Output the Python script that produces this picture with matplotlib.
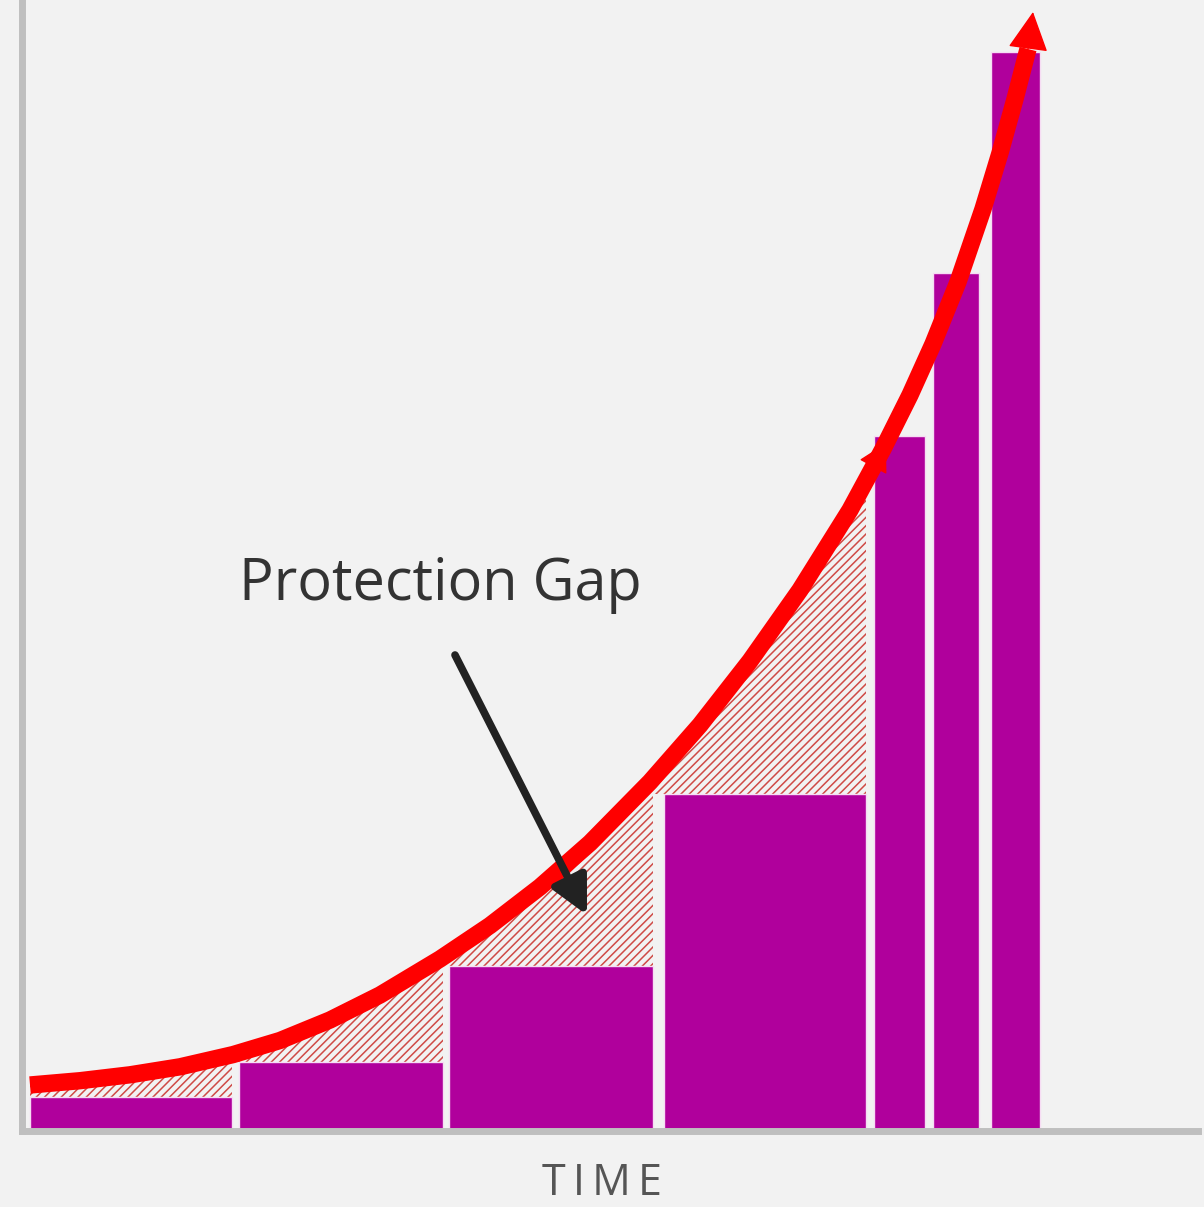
import numpy as np
import matplotlib
matplotlib.use("Agg")
import matplotlib.pyplot as plt
from matplotlib.patches import Polygon

# Cover bars: left edge, width and height of each period
bar_left = [0.8, 21.7, 42.7, 64.2, 85.2, 91.1, 96.9]
bar_width = [20.2, 20.4, 20.4, 20.2, 5.1, 4.6, 4.9]
bar_height = [3.4, 6.9, 16.5, 33.7, 69.5, 85.8, 107.9]

# Growing need curve
curve_x = [0.8, 5.8, 10.8, 15.8, 21.1, 25.8, 30.8, 35.8, 41.8, 46.8, 51.8, 56.8,
           62.8, 67.8, 72.8, 77.8, 82.8, 86.1, 88.8, 91.1, 93.6, 96.1, 97.8,
           99.3, 100.6]
curve_y = [4.6, 5.03, 5.62, 6.42, 7.64, 9.05, 11.1, 13.6, 17.2, 20.55, 24.4, 28.8,
           34.9, 40.6, 47.0, 54.1, 62.1, 68.2, 73.6, 78.7, 84.9, 92.2, 97.8,
           103.2, 108.2]
curve_tip = (101.1, 111.9)

gap_label = "Protection Gap"
axis_label = "T\u2009I\u2009M\u2009E"

BG = "#f2f2f2"
BAR = "#b0009c"
RED = "#ff0000"
SPINE = "#bfbfbf"
HATCH = "#cf4a46"

plt.rcParams["hatch.linewidth"] = 1.1
fig = plt.figure(figsize=(12.04, 12.07), dpi=100, facecolor=BG)
ax = fig.add_axes([22 / 1204, 76 / 1207, 1176 / 1204, 1131 / 1207])
ax.set_facecolor(BG)
ax.set_xlim(0, 117.6)
ax.set_ylim(0, 113.1)
ax.set_xticks([])
ax.set_yticks([])
for side in ("top", "right"):
    ax.spines[side].set_visible(False)
for side in ("left", "bottom"):
    ax.spines[side].set_color(SPINE)
    ax.spines[side].set_linewidth(5)
    ax.spines[side].set_zorder(2.6)

# Bars
ax.bar(bar_left, bar_height, width=bar_width, align="edge", color=BAR,
       edgecolor="#f6dcf3", linewidth=1.0, zorder=2)

# Hatched gap between the curve and the first four bars
n_gap = 4
rights = [bar_left[i] + bar_width[i] for i in range(n_gap)]
x_lo, x_hi = bar_left[0], rights[-1]
upper = [(x, y) for x, y in zip(curve_x, curve_y) if x_lo <= x <= x_hi]
upper.append((x_hi, float(np.interp(x_hi, curve_x, curve_y))))
lower = [(rights[-1], bar_height[n_gap - 1])]
for i in range(n_gap - 2, -1, -1):
    lower.append((rights[i], bar_height[i + 1]))
    lower.append((rights[i], bar_height[i]))
lower.append((bar_left[0], bar_height[0]))
ax.add_patch(Polygon(upper + lower, closed=True, facecolor="none",
                     edgecolor=HATCH, hatch="////", linewidth=0, zorder=1))

# Curve with arrowheads
ax.plot(curve_x, curve_y, color=RED, linewidth=12.5, solid_capstyle="butt",
        solid_joinstyle="round", zorder=3)
ax.annotate("", xy=curve_tip, xytext=(curve_x[-1], curve_y[-1]),
            arrowprops=dict(arrowstyle="-|>,head_length=0.5,head_width=0.26",
                            mutation_scale=50, color=RED, lw=1,
                            shrinkA=0, shrinkB=0), zorder=3)
ax.annotate("", xy=(curve_x[17] + 0.3, curve_y[17] + 0.6),
            xytext=(curve_x[16], curve_y[16]),
            arrowprops=dict(arrowstyle="-|>,head_length=0.45,head_width=0.25",
                            mutation_scale=40, color=RED, lw=1,
                            shrinkA=0, shrinkB=0), zorder=3)

# Label and pointer
ax.text(41.8, 53.1, gap_label, ha="center", va="baseline", fontsize=41.5,
        family=["Open Sans", "DejaVu Sans"], color="#333333", zorder=4)
ax.annotate("", xy=(56.5, 21.6), xytext=(43.3, 47.6),
            arrowprops=dict(arrowstyle="-|>,head_length=0.75,head_width=0.38",
                            mutation_scale=30, color="#222222", lw=5.5,
                            shrinkA=0, shrinkB=0), zorder=4)

ax.text(58.0, -6.4, axis_label, ha="center", va="baseline", fontsize=31,
        family=["Open Sans", "DejaVu Sans"], color="#555555", clip_on=False)

fig.savefig("out.png", dpi=100, facecolor=BG)
